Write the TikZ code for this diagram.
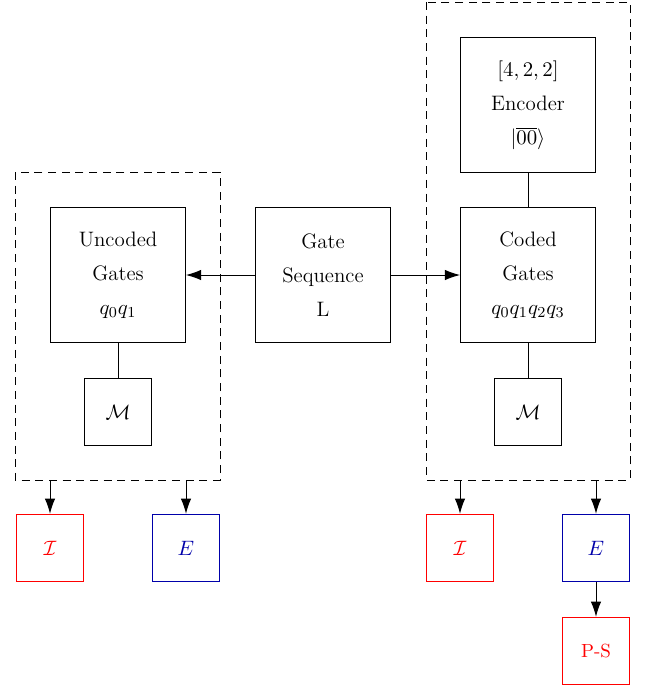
\documentclass[tikz,border=0pt]{standalone}
\usetikzlibrary{arrows.meta}
\definecolor{dblue}{RGB}{0,0,170}
\begin{document}
\begin{tikzpicture}[x=0.5263pt,y=-0.5263pt,
  bigbox/.style={draw,line width=0.5pt,minimum width=71pt,minimum height=71pt,inner sep=0pt,align=center,font=\fontsize{11}{18}\selectfont},
  smallbox/.style={draw,line width=0.5pt,minimum width=35.5pt,minimum height=35.5pt,inner sep=0pt,font=\fontsize{11}{13}\selectfont},
  group/.style={draw,line width=0.5pt,dash pattern=on 4.2pt off 3pt},
  arr/.style={-{Latex[length=8pt,width=5.5pt]},line width=0.5pt},
  conn/.style={line width=0.5pt}]
\useasboundingbox (0,0) rectangle (646,686);
% dashed groups
\draw[group] (15,172) rectangle (220,480);
\draw[group] (426,2) rectangle (630,480);
\coordinate (gl1) at (50,480);
\coordinate (gl2) at (186,480);
\coordinate (gr1) at (460,480);
\coordinate (gr2) at (596,480);
% nodes
\node[bigbox] (unc) at (118,275) {Uncoded\\Gates\\$q_0q_1$};
\node[smallbox] (ml) at (118,412) {$\mathcal{M}$};
\node[bigbox] (gs) at (323,275) {Gate\\Sequence\\L};
\node[bigbox] (enc) at (528,105) {$[4,2,2]$\\Encoder\\$|\overline{00}\rangle$};
\node[bigbox] (cod) at (528,275) {Coded\\Gates\\$q_0q_1q_2q_3$};
\node[smallbox] (mr) at (528,412) {$\mathcal{M}$};
\node[smallbox,draw=red,text=red] (il) at (50,548) {$\mathcal{I}$};
\node[smallbox,draw=dblue,text=dblue] (el) at (186,548) {$E$};
\node[smallbox,draw=red,text=red] (ir) at (460,548) {$\mathcal{I}$};
\node[smallbox,draw=dblue,text=dblue] (er) at (596,548) {$E$};
\node[smallbox,draw=red,text=red,font=\fontsize{10}{12}\selectfont] (ps) at (596,651) {P-S};
% connectors
\draw[arr] (gs.west) -- (unc.east);
\draw[arr] (gs.east) -- (cod.west);
\draw[conn] (unc.south) -- (ml.north);
\draw[conn] (enc.south) -- (cod.north);
\draw[conn] (cod.south) -- (mr.north);
\draw[arr] (gl1) -- (il.north);
\draw[arr] (gl2) -- (el.north);
\draw[arr] (gr1) -- (ir.north);
\draw[arr] (gr2) -- (er.north);
\draw[arr] (er.south) -- (ps.north);
\end{tikzpicture}
\end{document}
